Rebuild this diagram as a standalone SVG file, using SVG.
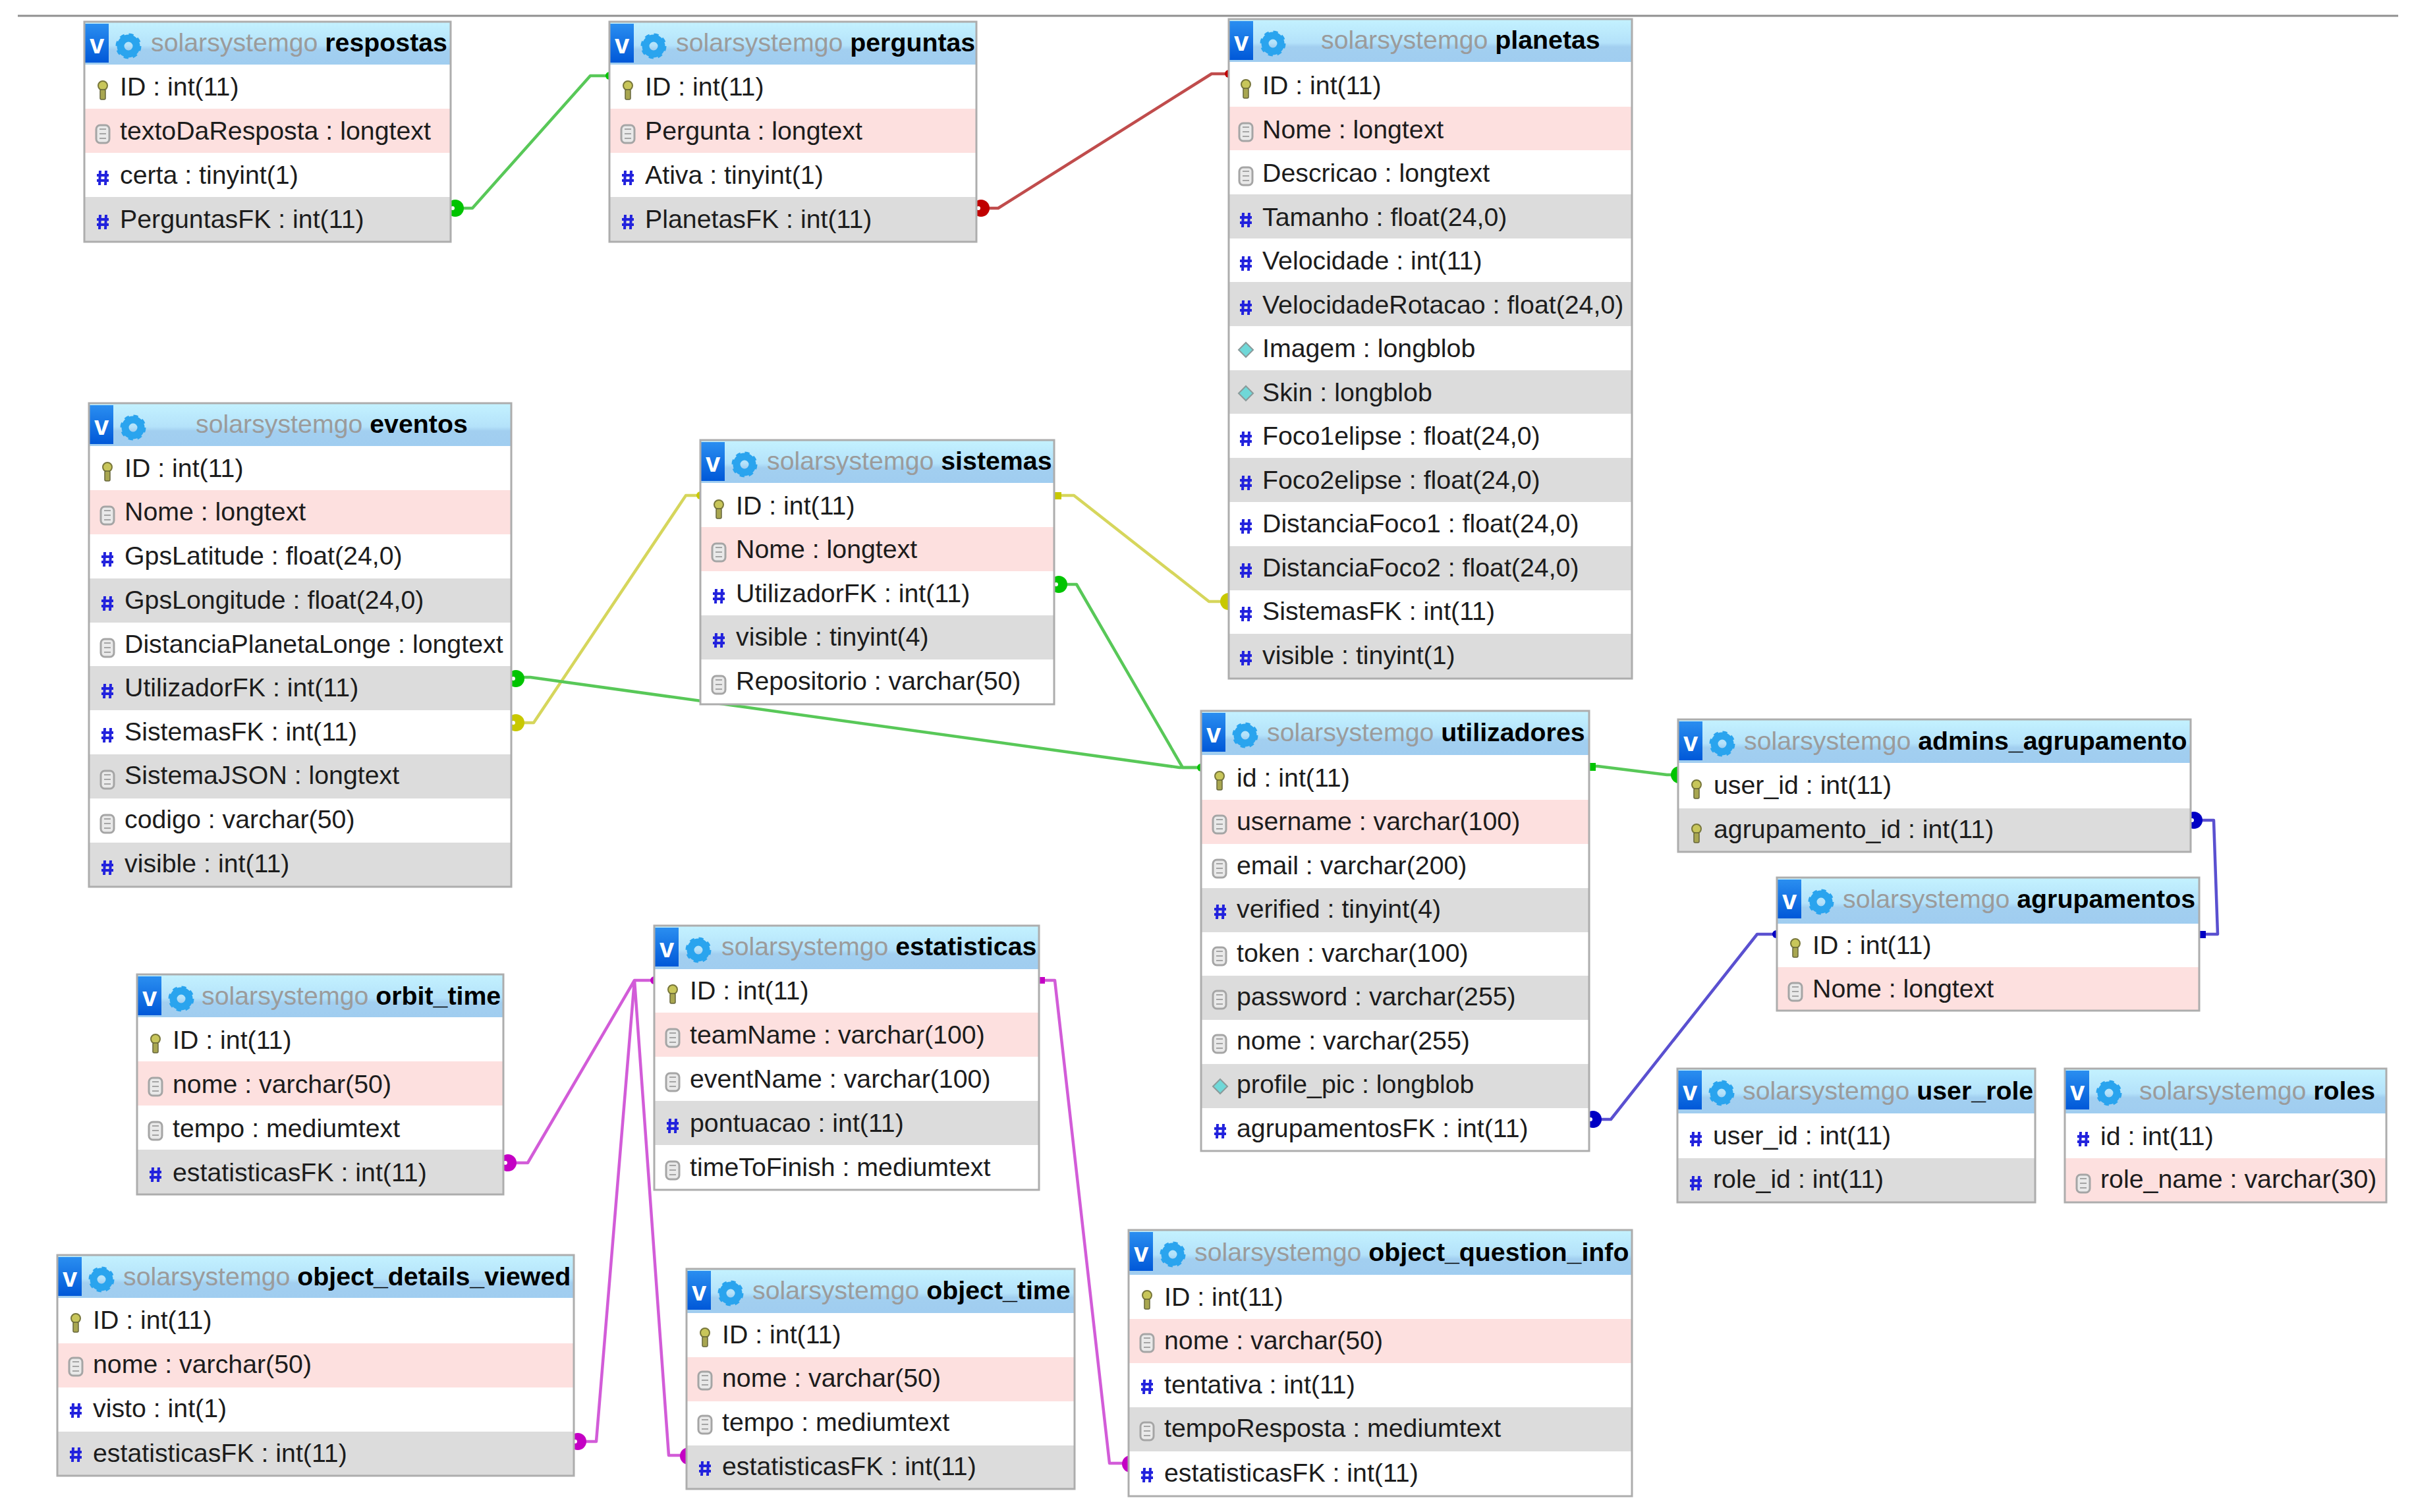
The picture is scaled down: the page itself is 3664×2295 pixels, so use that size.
<svg xmlns="http://www.w3.org/2000/svg" xmlns:xlink="http://www.w3.org/1999/xlink" width="3664" height="2295" viewBox="0 0 3664 2295">
<style>
text{font-family:"Liberation Sans",Arial,sans-serif;font-size:39.3px;fill:#1c1c1c}
.s{fill:#9b9b9b}
.n{font-weight:bold;fill:#000}
.v{font-weight:bold;fill:#fff;font-size:40px}
.g{fill:#dcdcdc}
.p{fill:#fde0df}
.o{fill:none;stroke:#adadad;stroke-width:3}
.c{fill:none;stroke-width:4.5;stroke-linejoin:round}
.gr{stroke:#58c858}.gm{fill:#00c400}
.ye{stroke:#d6d65c}.ym{fill:#c8c800}
.re{stroke:#c04c4c}.rm{fill:#c00000}
.bl{stroke:#5a50d0}.bm{fill:#0000c4}
.ma{stroke:#d25cd8}.mm{fill:#c400c4}
.w{fill:#fff}
</style>
<defs>
<linearGradient id="hg" x1="0" y1="0" x2="0" y2="1"><stop offset="0" stop-color="#c4f2ff"/><stop offset="0.55" stop-color="#b4e2fa"/><stop offset="0.65" stop-color="#a2cff0"/><stop offset="1" stop-color="#a0cdf0"/></linearGradient>
<linearGradient id="vb" x1="0" y1="0" x2="0" y2="1"><stop offset="0" stop-color="#2a8ef0"/><stop offset="1" stop-color="#0058d8"/></linearGradient>
<g id="hd">
<rect x="1" y="3" width="36" height="59" fill="url(#vb)"/>
<circle cx="67" cy="37" r="12" fill="none" stroke="#2aa4ee" stroke-width="11"/>
<circle cx="67" cy="37" r="17.5" fill="none" stroke="#2aa4ee" stroke-width="4" stroke-dasharray="7 6.74"/>
</g>
<g id="k">
<circle cx="0" cy="-6" r="7" fill="#c8c65a" stroke="#77763a" stroke-width="2"/>
<rect x="-4" y="0" width="8" height="15" rx="2" fill="#a8a650" stroke="#66653a" stroke-width="1.5"/>
</g>
<g id="d">
<rect x="-10" y="-13" width="20" height="27" rx="6" fill="#e9e9e9" stroke="#a5a5a5" stroke-width="3"/>
<path d="M-5-7H5M-5 0H5M-5 7H5" stroke="#a5a5a5" stroke-width="2" fill="none"/>
</g>
<path id="h" d="M-4-11-5 11M5-11 4 11M-9-4H9M-9 4H9" stroke="#2222dd" stroke-width="4" fill="none"/>
<g id="b">
<path d="M0-11 11 0 0 11-11 0Z" fill="#6fd8d8" stroke="#8a9a9a" stroke-width="2"/>
</g>
</defs>
<rect width="3664" height="2295" fill="#fff"/>
<line x1="27" y1="24" x2="3640" y2="24" stroke="#909090" stroke-width="3"/>
<g id="connectors">
<path class="c gr" d="M690 316H717L896 115H925"/>
<circle class="gm" cx="691" cy="316" r="13"/><circle class="w" cx="687" cy="316" r="3"/>
<circle class="gm" cx="925" cy="115" r="6"/>
<path class="c re" d="M1489 316H1515L1839 112H1865"/>
<circle class="rm" cx="1489" cy="316" r="13"/><circle class="w" cx="1485" cy="316" r="3"/>
<circle class="rm" cx="1865" cy="112" r="6"/>
<path class="c ye" d="M783 1097H810L1041 752H1063"/>
<circle class="ym" cx="783" cy="1097" r="13"/><circle class="w" cx="779" cy="1097" r="3"/>
<circle class="ym" cx="1063" cy="752" r="6"/>
<path class="c ye" d="M1606 752H1630L1835 913H1865"/>
<rect class="ym" x="1600" y="747" width="11" height="11"/>
<circle class="ym" cx="1865" cy="913" r="13"/>
<path class="c gr" d="M783 1028H805L1790 1165H1823"/>
<circle class="gm" cx="783" cy="1030" r="13"/><circle class="w" cx="779" cy="1030" r="3"/>
<path class="c gr" d="M1606 887H1634L1795 1165H1823"/>
<circle class="gm" cx="1607" cy="887" r="13"/><circle class="w" cx="1603" cy="887" r="3"/>
<circle class="gm" cx="1823" cy="1165" r="6"/>
<path class="c gr" d="M2416 1163H2425L2530 1176H2547"/>
<rect class="gm" x="2412" y="1158" width="10" height="12"/>
<circle class="gm" cx="2549" cy="1176" r="13"/>
<path class="c bl" d="M3330 1245H3360L3366 1418H3342"/>
<circle class="bm" cx="3330" cy="1245" r="13"/><circle class="w" cx="3327" cy="1245" r="3"/>
<rect class="bm" x="3338" y="1413" width="10" height="11"/>
<path class="c bl" d="M2417 1699H2445L2667 1418H2696"/>
<circle class="bm" cx="2418" cy="1699" r="13"/><circle class="w" cx="2414" cy="1699" r="3"/>
<circle class="bm" cx="2696" cy="1418" r="6"/>
<path class="c ma" d="M993 1488H963L801 1765H771"/>
<circle class="mm" cx="771" cy="1765" r="13"/><circle class="w" cx="767" cy="1765" r="3"/>
<path class="c ma" d="M963 1488 905 2188H877"/>
<circle class="mm" cx="877" cy="2188" r="13"/><circle class="w" cx="873" cy="2188" r="3"/>
<path class="c ma" d="M963 1488 1015 2209H1042"/>
<circle class="mm" cx="1045" cy="2210" r="13"/>
<circle class="mm" cx="993" cy="1488" r="6"/>
<path class="c ma" d="M1580 1488H1601L1684 2221H1713"/>
<rect class="mm" x="1577" y="1483" width="9" height="10"/>
<circle class="mm" cx="1716" cy="2222" r="13"/>
</g>
<g id="respostas" transform="translate(128,33)">
<rect width="556" height="334" class="w"/><rect width="556" height="65" fill="url(#hg)"/><use href="#hd"/>
<text x="8" y="48" class="v">v</text><text x="101" y="45"><tspan class="s">solarsystemgo</tspan> <tspan class="n">respostas</tspan></text>
<rect y="132" width="556" height="67" class="p"/><rect y="266" width="556" height="68" class="g"/>
<use href="#k" x="28" y="103"/><text x="54" y="112">ID : int(11)</text>
<use href="#d" x="28" y="170"/><text x="54" y="179">textoDaResposta : longtext</text>
<use href="#h" x="28" y="237"/><text x="54" y="246">certa : tinyint(1)</text>
<use href="#h" x="28" y="304"/><text x="54" y="313">PerguntasFK : int(11)</text>
<rect width="556" height="334" class="o"/>
</g>
<g id="perguntas" transform="translate(925,33)">
<rect width="557" height="334" class="w"/><rect width="557" height="65" fill="url(#hg)"/><use href="#hd"/>
<text x="8" y="48" class="v">v</text><text x="101" y="45"><tspan class="s">solarsystemgo</tspan> <tspan class="n">perguntas</tspan></text>
<rect y="132" width="557" height="67" class="p"/><rect y="266" width="557" height="68" class="g"/>
<use href="#k" x="28" y="103"/><text x="54" y="112">ID : int(11)</text>
<use href="#d" x="28" y="170"/><text x="54" y="179">Pergunta : longtext</text>
<use href="#h" x="28" y="237"/><text x="54" y="246">Ativa : tinyint(1)</text>
<use href="#h" x="28" y="304"/><text x="54" y="313">PlanetasFK : int(11)</text>
<rect width="557" height="334" class="o"/>
</g>
<g id="planetas" transform="translate(1865,29)">
<rect width="612" height="1001" class="w"/><rect width="612" height="65" fill="url(#hg)"/><use href="#hd"/>
<text x="8" y="48" class="v">v</text><text x="140" y="45"><tspan class="s">solarsystemgo</tspan> <tspan class="n">planetas</tspan></text>
<rect y="133" width="612" height="66" class="p"/><rect y="266" width="612" height="67" class="g"/><rect y="399" width="612" height="67" class="g"/><rect y="533" width="612" height="66" class="g"/><rect y="666" width="612" height="67" class="g"/><rect y="800" width="612" height="67" class="g"/><rect y="933" width="612" height="68" class="g"/>
<use href="#k" x="26" y="105"/><text x="51" y="114">ID : int(11)</text>
<use href="#d" x="26" y="171"/><text x="51" y="180.5">Nome : longtext</text>
<use href="#d" x="26" y="238"/><text x="51" y="247">Descricao : longtext</text>
<use href="#h" x="26" y="305"/><text x="51" y="313.5">Tamanho : float(24,0)</text>
<use href="#h" x="26" y="371"/><text x="51" y="380">Velocidade : int(11)</text>
<use href="#h" x="26" y="438"/><text x="51" y="446.5">VelocidadeRotacao : float(24,0)</text>
<use href="#b" x="26" y="502"/><text x="51" y="513">Imagem : longblob</text>
<use href="#b" x="26" y="568"/><text x="51" y="579.5">Skin : longblob</text>
<use href="#h" x="26" y="637"/><text x="51" y="646">Foco1elipse : float(24,0)</text>
<use href="#h" x="26" y="704"/><text x="51" y="712.5">Foco2elipse : float(24,0)</text>
<use href="#h" x="26" y="770"/><text x="51" y="779">DistanciaFoco1 : float(24,0)</text>
<use href="#h" x="26" y="837"/><text x="51" y="845.5">DistanciaFoco2 : float(24,0)</text>
<use href="#h" x="26" y="903"/><text x="51" y="912">SistemasFK : int(11)</text>
<use href="#h" x="26" y="970"/><text x="51" y="978.5">visible : tinyint(1)</text>
<rect width="612" height="1001" class="o"/>
</g>
<g id="eventos" transform="translate(135,612)">
<rect width="641" height="734" class="w"/><rect width="641" height="65" fill="url(#hg)"/><use href="#hd"/>
<text x="8" y="48" class="v">v</text><text x="162" y="45"><tspan class="s">solarsystemgo</tspan> <tspan class="n">eventos</tspan></text>
<rect y="132" width="641" height="67" class="p"/><rect y="266" width="641" height="67" class="g"/><rect y="399" width="641" height="67" class="g"/><rect y="533" width="641" height="67" class="g"/><rect y="667" width="641" height="67" class="g"/>
<use href="#k" x="28" y="103"/><text x="54" y="112">ID : int(11)</text>
<use href="#d" x="28" y="170"/><text x="54" y="178">Nome : longtext</text>
<use href="#h" x="28" y="237"/><text x="54" y="245">GpsLatitude : float(24,0)</text>
<use href="#h" x="28" y="304"/><text x="54" y="312">GpsLongitude : float(24,0)</text>
<use href="#d" x="28" y="371"/><text x="54" y="379">DistanciaPlanetaLonge : longtext</text>
<use href="#h" x="28" y="437"/><text x="54" y="445">UtilizadorFK : int(11)</text>
<use href="#h" x="28" y="504"/><text x="54" y="512">SistemasFK : int(11)</text>
<use href="#d" x="28" y="571"/><text x="54" y="578">SistemaJSON : longtext</text>
<use href="#d" x="28" y="638"/><text x="54" y="645">codigo : varchar(50)</text>
<use href="#h" x="28" y="705"/><text x="54" y="712">visible : int(11)</text>
<rect width="641" height="734" class="o"/>
</g>
<g id="sistemas" transform="translate(1063,668)">
<rect width="537" height="401" class="w"/><rect width="537" height="65" fill="url(#hg)"/><use href="#hd"/>
<text x="8" y="48" class="v">v</text><text x="101" y="45"><tspan class="s">solarsystemgo</tspan> <tspan class="n">sistemas</tspan></text>
<rect y="132" width="537" height="67" class="p"/><rect y="266" width="537" height="67" class="g"/>
<use href="#k" x="28" y="104"/><text x="54" y="113">ID : int(11)</text>
<use href="#d" x="28" y="170"/><text x="54" y="179">Nome : longtext</text>
<use href="#h" x="28" y="237"/><text x="54" y="246">UtilizadorFK : int(11)</text>
<use href="#h" x="28" y="304"/><text x="54" y="312">visible : tinyint(4)</text>
<use href="#d" x="28" y="371"/><text x="54" y="379">Repositorio : varchar(50)</text>
<rect width="537" height="401" class="o"/>
</g>
<g id="utilizadores" transform="translate(1823,1079)">
<rect width="589" height="668" class="w"/><rect width="589" height="67" fill="url(#hg)"/><use href="#hd"/>
<text x="8" y="48" class="v">v</text><text x="100" y="46"><tspan class="s">solarsystemgo</tspan> <tspan class="n">utilizadores</tspan></text>
<rect y="135" width="589" height="67" class="p"/><rect y="269" width="589" height="67" class="g"/><rect y="402" width="589" height="67" class="g"/><rect y="536" width="589" height="67" class="g"/>
<use href="#k" x="28" y="105"/><text x="54" y="115">id : int(11)</text>
<use href="#d" x="28" y="172"/><text x="54" y="181">username : varchar(100)</text>
<use href="#d" x="28" y="239"/><text x="54" y="248">email : varchar(200)</text>
<use href="#h" x="29" y="305"/><text x="54" y="314">verified : tinyint(4)</text>
<use href="#d" x="28" y="372"/><text x="54" y="381">token : varchar(100)</text>
<use href="#d" x="28" y="438"/><text x="54" y="447">password : varchar(255)</text>
<use href="#d" x="28" y="505"/><text x="54" y="514">nome : varchar(255)</text>
<use href="#b" x="29" y="570"/><text x="54" y="580">profile_pic : longblob</text>
<use href="#h" x="29" y="638"/><text x="54" y="647">agrupamentosFK : int(11)</text>
<rect width="589" height="668" class="o"/>
</g>
<g id="admins_agrupamento" transform="translate(2547,1092)">
<rect width="778" height="201" class="w"/><rect width="778" height="66" fill="url(#hg)"/><use href="#hd"/>
<text x="8" y="48" class="v">v</text><text x="100" y="46"><tspan class="s">solarsystemgo</tspan> <tspan class="n">admins_agrupamento</tspan></text>
<rect y="135" width="778" height="66" class="g"/>
<use href="#k" x="28" y="105"/><text x="54" y="113">user_id : int(11)</text>
<use href="#k" x="28" y="172"/><text x="54" y="180">agrupamento_id : int(11)</text>
<rect width="778" height="201" class="o"/>
</g>
<g id="agrupamentos" transform="translate(2697,1332)">
<rect width="641" height="202" class="w"/><rect width="641" height="70" fill="url(#hg)"/><use href="#hd"/>
<text x="8" y="48" class="v">v</text><text x="100" y="46"><tspan class="s">solarsystemgo</tspan> <tspan class="n">agrupamentos</tspan></text>
<rect y="136" width="641" height="66" class="p"/>
<use href="#k" x="28" y="106"/><text x="54" y="116">ID : int(11)</text>
<use href="#d" x="28" y="173"/><text x="54" y="182">Nome : longtext</text>
<rect width="641" height="202" class="o"/>
</g>
<g id="user_role" transform="translate(2546,1622)">
<rect width="543" height="203" class="w"/><rect width="543" height="68" fill="url(#hg)"/><use href="#hd"/>
<text x="8" y="48" class="v">v</text><text x="99" y="47"><tspan class="s">solarsystemgo</tspan> <tspan class="n">user_role</tspan></text>
<rect y="136" width="543" height="67" class="g"/>
<use href="#h" x="28" y="107"/><text x="54" y="115">user_id : int(11)</text>
<use href="#h" x="28" y="174"/><text x="54" y="181">role_id : int(11)</text>
<rect width="543" height="203" class="o"/>
</g>
<g id="roles" transform="translate(3134,1622)">
<rect width="488" height="203" class="w"/><rect width="488" height="68" fill="url(#hg)"/><use href="#hd"/>
<text x="8" y="48" class="v">v</text><text x="113" y="47"><tspan class="s">solarsystemgo</tspan> <tspan class="n">roles</tspan></text>
<rect y="136" width="488" height="67" class="p"/>
<use href="#h" x="28" y="107"/><text x="54" y="116">id : int(11)</text>
<use href="#d" x="28" y="174"/><text x="54" y="181">role_name : varchar(30)</text>
<rect width="488" height="203" class="o"/>
</g>
<g id="estatisticas" transform="translate(993,1405)">
<rect width="584" height="401" class="w"/><rect width="584" height="66" fill="url(#hg)"/><use href="#hd"/>
<text x="8" y="48" class="v">v</text><text x="102" y="45"><tspan class="s">solarsystemgo</tspan> <tspan class="n">estatisticas</tspan></text>
<rect y="132" width="584" height="67" class="p"/><rect y="266" width="584" height="67" class="g"/>
<use href="#k" x="28" y="103"/><text x="54" y="112">ID : int(11)</text>
<use href="#d" x="28" y="170"/><text x="54" y="179">teamName : varchar(100)</text>
<use href="#d" x="28" y="237"/><text x="54" y="246">eventName : varchar(100)</text>
<use href="#h" x="28" y="304"/><text x="54" y="313">pontuacao : int(11)</text>
<use href="#d" x="28" y="371"/><text x="54" y="380">timeToFinish : mediumtext</text>
<rect width="584" height="401" class="o"/>
</g>
<g id="orbit_time" transform="translate(208,1479)">
<rect width="556" height="334" class="w"/><rect width="556" height="65" fill="url(#hg)"/><use href="#hd"/>
<text x="8" y="48" class="v">v</text><text x="98" y="46"><tspan class="s">solarsystemgo</tspan> <tspan class="n">orbit_time</tspan></text>
<rect y="132" width="556" height="67" class="p"/><rect y="266" width="556" height="68" class="g"/>
<use href="#k" x="28" y="104"/><text x="54" y="113">ID : int(11)</text>
<use href="#d" x="28" y="170"/><text x="54" y="180">nome : varchar(50)</text>
<use href="#d" x="28" y="237"/><text x="54" y="247">tempo : mediumtext</text>
<use href="#h" x="28" y="304"/><text x="54" y="314">estatisticasFK : int(11)</text>
<rect width="556" height="334" class="o"/>
</g>
<g id="object_details_viewed" transform="translate(87,1905)">
<rect width="784" height="335" class="w"/><rect width="784" height="65" fill="url(#hg)"/><use href="#hd"/>
<text x="8" y="48" class="v">v</text><text x="100" y="46"><tspan class="s">solarsystemgo</tspan> <tspan class="n">object_details_viewed</tspan></text>
<rect y="134" width="784" height="67" class="p"/><rect y="268" width="784" height="67" class="g"/>
<use href="#k" x="28" y="102"/><text x="54" y="112">ID : int(11)</text>
<use href="#d" x="28" y="169"/><text x="54" y="179">nome : varchar(50)</text>
<use href="#h" x="28" y="236"/><text x="54" y="246">visto : int(1)</text>
<use href="#h" x="28" y="303"/><text x="54" y="314">estatisticasFK : int(11)</text>
<rect width="784" height="335" class="o"/>
</g>
<g id="object_time" transform="translate(1042,1926)">
<rect width="589" height="334" class="w"/><rect width="589" height="67" fill="url(#hg)"/><use href="#hd"/>
<text x="8" y="48" class="v">v</text><text x="100" y="46"><tspan class="s">solarsystemgo</tspan> <tspan class="n">object_time</tspan></text>
<rect y="134" width="589" height="67" class="p"/><rect y="268" width="589" height="66" class="g"/>
<use href="#k" x="28" y="103"/><text x="54" y="113">ID : int(11)</text>
<use href="#d" x="28" y="169"/><text x="54" y="179">nome : varchar(50)</text>
<use href="#d" x="28" y="236"/><text x="54" y="246">tempo : mediumtext</text>
<use href="#h" x="28" y="303"/><text x="54" y="313">estatisticasFK : int(11)</text>
<rect width="589" height="334" class="o"/>
</g>
<g id="object_question_info" transform="translate(1713,1867)">
<rect width="764" height="404" class="w"/><rect width="764" height="68" fill="url(#hg)"/><use href="#hd"/>
<text x="8" y="48" class="v">v</text><text x="100" y="47"><tspan class="s">solarsystemgo</tspan> <tspan class="n">object_question_info</tspan></text>
<rect y="135" width="764" height="67" class="p"/><rect y="269" width="764" height="67" class="g"/>
<use href="#k" x="28" y="105"/><text x="54" y="115">ID : int(11)</text>
<use href="#d" x="28" y="171"/><text x="54" y="181">nome : varchar(50)</text>
<use href="#h" x="28" y="238"/><text x="54" y="248">tentativa : int(11)</text>
<use href="#d" x="28" y="305"/><text x="54" y="314">tempoResposta : mediumtext</text>
<use href="#h" x="28" y="372"/><text x="54" y="382">estatisticasFK : int(11)</text>
<rect width="764" height="404" class="o"/>
</g>
</svg>
